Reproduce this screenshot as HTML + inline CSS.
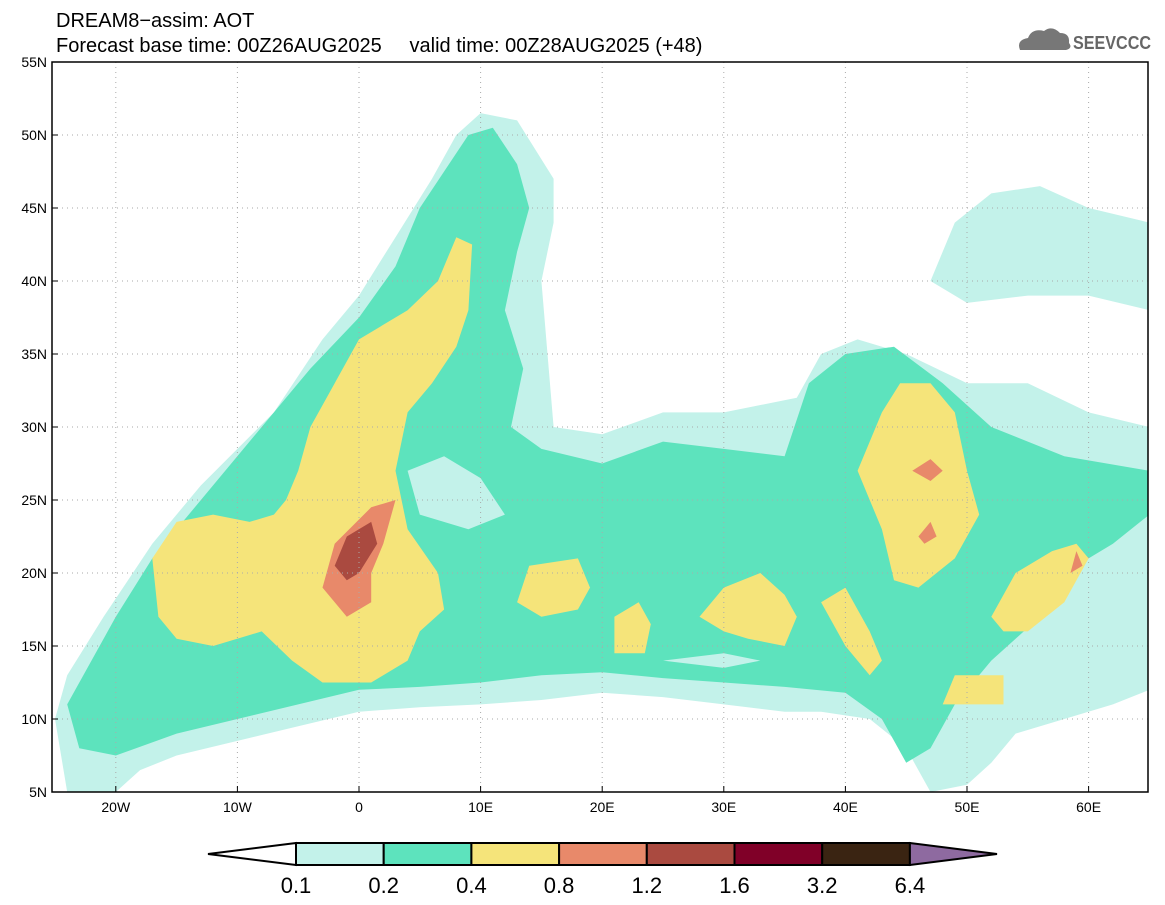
<!DOCTYPE html>
<html><head><meta charset="utf-8"><style>
body{margin:0;background:#fff;}
svg{display:block;font-family:"Liberation Sans",sans-serif;}
</style></head><body>
<svg id="c" width="1165" height="905" viewBox="0 0 1165 905">
<text x="56" y="27" font-size="20">DREAM8−assim: AOT</text>
<text x="56" y="52" font-size="20" xml:space="preserve" style="white-space:pre">Forecast base time: 00Z26AUG2025     valid time: 00Z28AUG2025 (+48)</text>
<g>
<path d="M1020 50 q-4 -10 8 -12 q4 -10 16 -7 q8 -6 16 2 q10 0 9 10 q4 5 -3 7 z" fill="#777"/>
<text x="1073" y="49" font-size="18" font-weight="bold" fill="#666" textLength="78" lengthAdjust="spacingAndGlyphs">SEEVCCC</text>
</g>
<clipPath id="mapclip"><rect x="52" y="62" width="1096" height="730"/></clipPath>
<g id="map" clip-path="url(#mapclip)"></g>
<rect x="52" y="62" width="1096" height="730" fill="none" stroke="#000" stroke-width="1.5"/>
<g id="axes"></g>
<g id="cbar"></g>
</svg>
<script>
const lonTicks=[-20,-10,0,10,20,30,40,50,60];
const lonLabels=["20W","10W","0","10E","20E","30E","40E","50E","60E"];
const latTicks=[5,10,15,20,25,30,35,40,45,50,55];
const latLabels=["5N","10N","15N","20N","25N","30N","35N","40N","45N","50N","55N"];
const levels=["0.1","0.2","0.4","0.8","1.2","1.6","3.2","6.4"];
const levelColors=["#c3f2ea","#5de3bd","#f5e47a","#e8896a","#aa4a40","#800028","#3a2412"];
const cyanArea=[[-24,5],[-25,10],[-24,13],[-21,17],[-17,22],[-13,26],[-7,31],[-3,36],[0,39],[3,43],[6,47],[8,50],[10,51.5],[13,51],[16,47],[16,44],[15,40],[15.5,35],[16,30],[20,29.5],[25,31],[30,31],[36,32],[38,35],[41,36],[45,35],[50,33],[55,33],[60,31],[65,30],[65,12],[62,11],[58,10],[54,9],[52,7],[50,5.5],[47,5],[45,8],[42,10],[38,10.5],[35,10.5],[30,11],[25,11.5],[20,11.8],[15,11.3],[10,11],[5,10.8],[0,10.5],[-5,9.5],[-10,8.5],[-15,7.5],[-18,6.5],[-20,5]];
const cyanCaspian=[[47,40],[49,44],[52,46],[56,46.5],[60,45],[65,44],[65,38],[60,39],[55,39],[50,38.5]];
const greenArea=[[-23,8],[-24,11],[-20,17],[-17,21],[-13,25],[-8,30],[-4,34],[0,37.5],[3,41],[5,45],[7,47.5],[9,50],[11,50.5],[13,48],[14,45],[13,42],[12,38],[13.5,34],[12.5,30],[15,28.5],[20,27.5],[25,29],[30,28.5],[35,28],[37,33],[40,35],[44,35.5],[48,33],[52,30],[58,28],[65,27],[65,24],[62,22],[58,20],[56,17],[52,14],[49,11],[47,8],[45,7],[43,10],[40,11.8],[35,12.2],[30,12.5],[25,12.8],[20,13.2],[15,13],[10,12.5],[5,12.2],[0,12],[-5,11],[-10,10],[-15,9],[-20,7.5]];
const cyanHoles=[[[4,27],[7,28],[10,26.5],[12,24],[9,23],[5,24]],[[25,14],[30,13.5],[33,14],[30,14.5]],[[57,16],[62,18],[65,19],[65,15],[60,14]]];
const yellowAreas=[
[[-17,21],[-16.5,17],[-15,15.5],[-12,15],[-8,16],[-5.5,14],[-3,12.5],[1,12.5],[4,14],[5,16],[7,17.5],[6.5,20],[4,23],[3,27],[4,31],[6,33],[8,35.5],[9,38],[9.3,42.5],[8,43],[6.5,40],[4,38],[0,36],[-2,33],[-4,30],[-5,27],[-6,25],[-7,24],[-9,23.5],[-12,24],[-15,23.5]],
[[13,18],[14,20.5],[18,21],[19,19],[18,17.5],[15,17]],
[[21,14.5],[21,17],[23,18],[24,16.5],[23.5,14.5]],
[[28,17],[30,19],[33,20],[35,18.5],[36,17],[35,15],[32,15.5],[30,16]],
[[38,18],[40,19],[42,16],[43,14],[42,13],[40,15]],
[[41,27],[43,31],[44.5,33],[47,33],[49,31],[50,27],[51,24],[49,21],[46,19],[44,19.5],[43,23],[42,25]],
[[52,17],[54,20],[57,21.5],[59,22],[60,21],[58,18],[55,16],[53,16]],
[[48,11],[53,11],[53,13],[49,13]]];
const salmonAreas=[[[-3,19],[-2,22],[1,24.5],[3,25],[2,22],[1,20],[1,18],[-1,17],[-2,18]],[[45.5,27],[47,27.8],[48,27],[47,26.3]],[[46,22.5],[47,23.5],[47.5,22.5],[46.5,22]],[[58.5,20],[59,21.5],[59.5,20.5]]];
const brownAreas=[[[-2,20.5],[-1,22.5],[1,23.5],[1.5,22],[0,20],[-1,19.5]]];

const NS="http://www.w3.org/2000/svg";
const X=lon=>359+lon*12.16;
const Y=lat=>792-(lat-5)*14.6;
const map=document.getElementById('map');
function poly(pts,fill,name){
 const p=document.createElementNS(NS,'path');
 p.setAttribute('d','M'+pts.map(q=>X(q[0]).toFixed(1)+' '+Y(q[1]).toFixed(1)).join(' L')+' Z');
 p.setAttribute('fill',fill);
 p.setAttribute('stroke-linejoin','round');
 
 
 map.appendChild(p);
}
poly(cyanArea,levelColors[0],'aot-0.1-0.2-region');
poly(cyanCaspian,levelColors[0],'aot-0.1-0.2-caspian-region');
poly(greenArea,levelColors[1],'aot-0.2-0.4-region');
cyanHoles.forEach(h=>poly(h,levelColors[0],'aot-0.1-0.2-pocket'));
yellowAreas.forEach(a=>poly(a,levelColors[2],'aot-0.4-0.8-region'));
salmonAreas.forEach(a=>poly(a,levelColors[3],'aot-0.8-1.2-region'));
brownAreas.forEach(a=>poly(a,levelColors[4],'aot-1.2-1.6-region'));
lonTicks.forEach(l=>{const ln=document.createElementNS(NS,'line');
ln.setAttribute('x1',X(l));ln.setAttribute('x2',X(l));ln.setAttribute('y1',62);ln.setAttribute('y2',792);
ln.setAttribute('stroke','#aaa');ln.setAttribute('stroke-dasharray','1 4');


map.appendChild(ln);});
latTicks.forEach(l=>{const ln=document.createElementNS(NS,'line');
ln.setAttribute('y1',Y(l));ln.setAttribute('y2',Y(l));ln.setAttribute('x1',52);ln.setAttribute('x2',1148);
ln.setAttribute('stroke','#aaa');ln.setAttribute('stroke-dasharray','1 4');


map.appendChild(ln);});
const axes=document.getElementById('axes');
lonTicks.forEach((l,i)=>{const t=document.createElementNS(NS,'text');
t.setAttribute('x',X(l));t.setAttribute('y',812);t.setAttribute('font-size','14');t.setAttribute('text-anchor','middle');
t.textContent=lonLabels[i];


axes.appendChild(t);
const k=document.createElementNS(NS,'line');k.setAttribute('x1',X(l));k.setAttribute('x2',X(l));k.setAttribute('y1',786);k.setAttribute('y2',792);k.setAttribute('stroke','#000');axes.appendChild(k);});
latTicks.forEach((l,i)=>{const t=document.createElementNS(NS,'text');
t.setAttribute('x',47);t.setAttribute('y',Y(l)+5);t.setAttribute('font-size','14');t.setAttribute('text-anchor','end');
t.textContent=latLabels[i];


axes.appendChild(t);
const k=document.createElementNS(NS,'line');k.setAttribute('x1',52);k.setAttribute('x2',58);k.setAttribute('y1',Y(l));k.setAttribute('y2',Y(l));k.setAttribute('stroke','#000');axes.appendChild(k);});
const cb=document.getElementById('cbar');
const bx0=296,bw=87.7,by=843,bh=22;
function cpath(d,fill,name){const p=document.createElementNS(NS,'path');p.setAttribute('d',d);p.setAttribute('fill',fill);p.setAttribute('stroke','#000');p.setAttribute('stroke-width','2');


cb.appendChild(p);}
cpath(`M${bx0} ${by} L208 ${by+bh/2} L${bx0} ${by+bh} Z`,'#fff','colorbar-low-extension');
levelColors.forEach((c,i)=>cpath(`M${bx0+i*bw} ${by} h${bw} v${bh} h${-bw} Z`,c,'colorbar-swatch'));
const xe=bx0+levelColors.length*bw;
cpath(`M${xe} ${by} L997 ${by+bh/2} L${xe} ${by+bh} Z`,'#8e6aa0','colorbar-high-extension');
levels.forEach((v,i)=>{const t=document.createElementNS(NS,'text');
t.setAttribute('x',bx0+i*bw);t.setAttribute('y',893);t.setAttribute('font-size','22');t.setAttribute('text-anchor','middle');
t.textContent=v;


cb.appendChild(t);});
</script>
</body></html>
